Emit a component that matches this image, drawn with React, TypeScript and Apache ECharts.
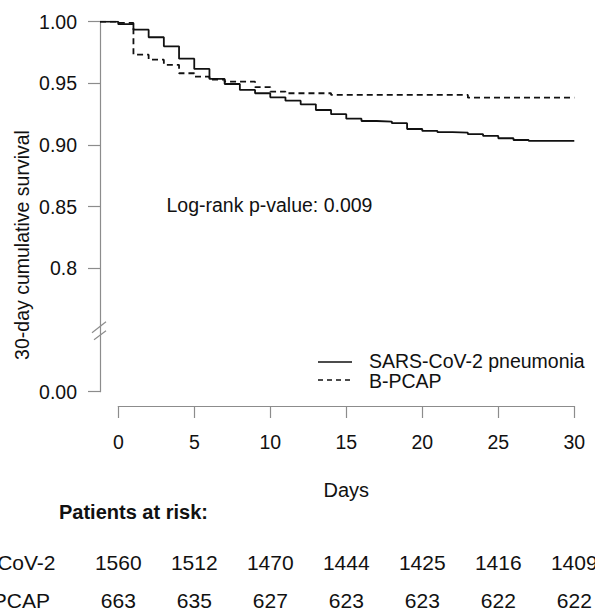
import React, { useEffect, useRef } from "react";
import * as echarts from "echarts";

// ---------- data ----------
const xStart = -1.2; // plot region starts slightly left of day 0
const days = [0, 1, 2, 3, 4, 5, 6, 7, 8, 9, 10, 11, 12, 13, 14, 15, 16, 17, 18, 19, 20, 21, 22, 23, 24, 25, 26, 27, 28, 29, 30];
const covidSurv = [
  0.998, 0.9935, 0.9874, 0.98, 0.97, 0.9617, 0.9536, 0.9495, 0.9447, 0.942,
  0.9387, 0.936, 0.933, 0.9284, 0.925, 0.9214, 0.9195, 0.919, 0.9177, 0.913,
  0.9114, 0.9104, 0.91, 0.9088, 0.9074, 0.9055, 0.9041, 0.9033, 0.9033, 0.9033, 0.9033,
];
const pcapSurv = [
  0.999, 0.9733, 0.9692, 0.965, 0.9582, 0.9554, 0.953, 0.9514, 0.9514, 0.947,
  0.9433, 0.942, 0.942, 0.942, 0.9406, 0.9406, 0.9406, 0.9406, 0.9406, 0.9406,
  0.9406, 0.9406, 0.9406, 0.9384, 0.9384, 0.9384, 0.9384, 0.9384, 0.9384, 0.9384, 0.9384,
];
const seriesNames = ["SARS-CoV-2 pneumonia", "B-PCAP"];
const yTickValues = [0.7, 0.8, 0.85, 0.9, 0.95, 1.0];
const yTickLabels = ["0.00", "0.8", "0.85", "0.90", "0.95", "1.00"];
const yBreakValue = 0.75;
const xTickDays = [0, 5, 10, 15, 20, 25, 30];
const riskGroups = ["SARS-CoV-2", "B-PCAP"];
const riskCovid = [1560, 1512, 1470, 1444, 1425, 1416, 1409];
const riskPcap = [663, 635, 627, 623, 623, 622, 622];
const pValueText = "Log-rank p-value: 0.009";
const yTitle = "30-day cumulative survival";
const xTitle = "Days";
const riskTitle = "Patients at risk:";

// ---------- style ----------
const FONT = "'Liberation Sans', Arial, Helvetica, sans-serif";
const INK = "#111111";
const AXIS = "#8c8c8c";
const W = 595;
const H = 611;

function txt(text: string, x: number, y: number, size: number, align: string, extra: any = {}) {
  return {
    type: "text",
    x,
    y,
    silent: true,
    ...extra,
    style: {
      text,
      fontSize: size,
      fontFamily: FONT,
      fill: INK,
      align,
      textAlign: align,
      verticalAlign: "middle",
      textVerticalAlign: "middle",
      ...(extra.style || {}),
    },
  };
}

export default function App() {
  const ref = useRef<HTMLDivElement>(null);

  useEffect(() => {
    const chart = echarts.init(ref.current!, null, { renderer: "svg" });
    const covidData = [[xStart, 1.0], ...days.map((d, i) => [d, covidSurv[i]])];
    const pcapData = [[xStart, 1.0], ...days.map((d, i) => [d, pcapSurv[i]])];

    chart.setOption({
      animation: false,
      backgroundColor: "#ffffff",
      textStyle: { fontFamily: FONT },
      grid: [
        { left: 100, right: 20.7, top: 21.7, bottom: H - 391.7, outerBoundsMode: "none", containLabel: false },
        { left: 118.3, right: 20.7, top: 396, height: 10, outerBoundsMode: "none", containLabel: false },
      ],
      xAxis: [
        { gridIndex: 0, type: "value", min: xStart, max: 30, show: false },
        {
          gridIndex: 1,
          type: "value",
          min: 0,
          max: 30,
          interval: 5,
          position: "bottom",
          axisLine: { show: true, onZero: false, lineStyle: { color: AXIS, width: 1.2 } },
          axisTick: { show: true, length: 12, lineStyle: { color: AXIS, width: 1.2 } },
          axisLabel: { margin: 26, fontSize: 19.5, color: INK, fontFamily: FONT, lineHeight: 20 },
          splitLine: { show: false },
        },
      ],
      yAxis: [
        {
          gridIndex: 0,
          type: "value",
          min: 0.7,
          max: 1.0,
          axisLine: { show: true, onZero: false, lineStyle: { color: AXIS, width: 1.2 } },
          axisTick: { show: true, length: 12, customValues: yTickValues, lineStyle: { color: AXIS, width: 1.2 } },
          axisLabel: {
            customValues: yTickValues,
            margin: 23,
            fontSize: 19.5,
            color: INK,
            fontFamily: FONT,
            formatter: (v: number) => {
              const i = yTickValues.findIndex((t) => Math.abs(t - v) < 1e-9);
              return i >= 0 ? yTickLabels[i] : "";
            },
          },
          splitLine: { show: false },
        },
        { gridIndex: 1, type: "value", min: 0, max: 1, show: false },
      ],
      series: [
        {
          name: seriesNames[0],
          type: "line",
          xAxisIndex: 0,
          yAxisIndex: 0,
          step: "end",
          showSymbol: false,
          symbol: "none",
          data: covidData,
          lineStyle: { color: INK, width: 1.8, type: "solid" },
          silent: true,
        },
        {
          name: seriesNames[1],
          type: "line",
          xAxisIndex: 0,
          yAxisIndex: 0,
          step: "end",
          showSymbol: false,
          symbol: "none",
          data: pcapData,
          lineStyle: { color: INK, width: 1.8, type: [6, 4] },
          silent: true,
        },
      ],
    });

    const axisX = chart.convertToPixel({ xAxisIndex: 0 }, xStart) as number;
    const yb = chart.convertToPixel({ yAxisIndex: 0 }, yBreakValue) as number;
    const tickX = xTickDays.map((d) => chart.convertToPixel({ xAxisIndex: 1 }, d) as number);
    const midX = chart.convertToPixel({ xAxisIndex: 1 }, 15) as number;

    const g: any[] = [];
    // axis break marks
    g.push({ type: "line", silent: true, shape: { x1: axisX - 8, y1: yb + 2.7, x2: axisX + 6, y2: yb - 8.3 }, style: { stroke: AXIS, lineWidth: 1.2 } });
    g.push({ type: "line", silent: true, shape: { x1: axisX - 6, y1: yb + 9.7, x2: axisX + 6, y2: yb + 0.7 }, style: { stroke: AXIS, lineWidth: 1.2 } });
    // y title
    g.push(txt(yTitle, 22, 245, 19.5, "center", { rotation: Math.PI / 2 }));
    // p-value
    g.push(txt(pValueText, 166.5, 205, 19.5, "left"));
    // legend
    g.push({ type: "line", silent: true, shape: { x1: 318, y1: 362, x2: 352, y2: 362 }, style: { stroke: INK, lineWidth: 1.6 } });
    g.push({ type: "line", silent: true, shape: { x1: 318, y1: 380, x2: 352, y2: 380 }, style: { stroke: INK, lineWidth: 1.6, lineDash: [5, 4] } });
    g.push(txt(seriesNames[0], 369, 361, 19.5, "left"));
    g.push(txt(seriesNames[1], 369, 381, 19.5, "left"));
    // x title
    g.push(txt(xTitle, midX, 490, 20, "center"));
    // risk table
    g.push(txt(riskTitle, 59, 512, 20, "left", { style: { fontWeight: "bold" } }));
    g.push(txt(riskGroups[0], 55.5, 562, 21, "right"));
    g.push(txt(riskGroups[1], 50, 600, 21, "right"));
    riskCovid.forEach((n, i) => g.push(txt(String(n), tickX[i], 562, 21, "center")));
    riskPcap.forEach((n, i) => g.push(txt(String(n), tickX[i], 600, 21, "center")));

    chart.setOption({ graphic: g });

    return () => chart.dispose();
  }, []);

  return (
    <div
      ref={ref}
      style={{ position: "fixed", left: 0, top: 0, width: W, height: H, background: "#fff" }}
    />
  );
}
